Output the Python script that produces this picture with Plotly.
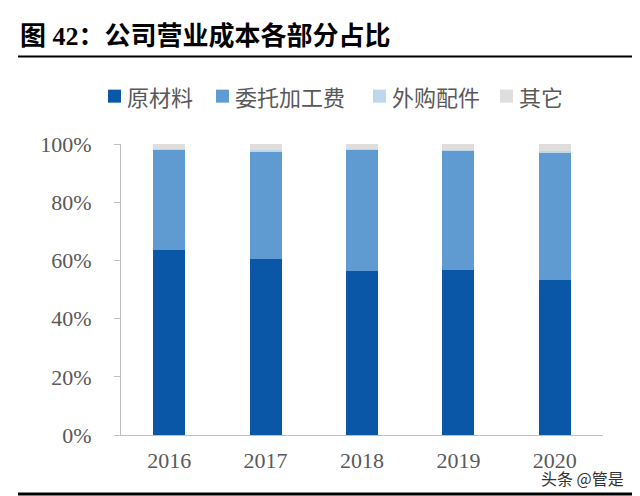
import plotly.graph_objects as go

# ---- data ----
years = ["2016", "2017", "2018", "2019", "2020"]
series_names = ["原材料", "委托加工费", "外购配件", "其它"]
raw_material = [63.6, 60.5, 56.5, 56.6, 53.4]
processing_fee = [34.4, 37.0, 41.5, 41.2, 43.6]
purchased_parts = [0.3, 0.6, 0.3, 0.3, 0.6]
others = [1.7, 1.9, 1.7, 1.9, 2.4]
y_ticks = [0, 20, 40, 60, 80, 100]
y_tick_labels = ["0%", "20%", "40%", "60%", "80%", "100%"]

series_values = [raw_material, processing_fee, purchased_parts, others]
colors = ["#0A57A8", "#5F9BD0", "#BDD7EE", "#E0DEDC"]

W, H = 640, 496
X0, X1, YT, YB = 121, 603, 144.3, 435


def px(x):
    return (x - X0) / (X1 - X0)


def py(y):
    return (YB - y) / (YB - YT)


fig = go.Figure()
for name, vals, col in zip(series_names, series_values, colors):
    fig.add_trace(go.Bar(x=years, y=vals, name=name, marker=dict(color=col, line=dict(width=0)),
                         showlegend=False))

serif = "Liberation Serif, Times New Roman, serif"
cjk = "Noto Sans CJK SC, sans-serif"

fig.update_layout(
    width=W, height=H,
    margin=dict(l=X0, r=W - X1, t=YT, b=H - YB, pad=0, autoexpand=False),
    barmode="stack",
    bargap=0.668,
    plot_bgcolor="white",
    paper_bgcolor="white",
    xaxis=dict(type="category", showline=True, linecolor="#BFBFBF", linewidth=1,
               ticks="", showgrid=False, automargin=False,
               tickfont=dict(family=serif, size=22, color="#595959"),
               ticklabelstandoff=6),
    yaxis=dict(range=[0, 100], tickmode="array", tickvals=y_ticks, ticktext=y_tick_labels,
               showline=True, automargin=False,
               linecolor="#BFBFBF", linewidth=1, ticks="outside", ticklen=6,
               tickcolor="#BFBFBF", showgrid=False, zeroline=False,
               tickfont=dict(family=serif, size=22, color="#595959"),
               ticklabelstandoff=18),
)

annotations = []
shapes = []

# title
annotations.append(dict(
    text="<b>图 42：公司营业成本各部分占比</b>", xref="paper", yref="paper",
    x=px(18), y=py(37), xanchor="left", yanchor="middle", showarrow=False,
    font=dict(family="Liberation Serif, Noto Sans CJK SC", size=26, color="#000000")))

# title rule and bottom rule
shapes.append(dict(type="line", xref="paper", yref="paper", x0=px(18), x1=px(632),
                   y0=py(57), y1=py(57), line=dict(color="#000000", width=2)))
shapes.append(dict(type="line", xref="paper", yref="paper", x0=px(18), x1=px(632),
                   y0=py(494), y1=py(494), line=dict(color="#000000", width=3)))

# custom legend
legend_marker_x = [108, 216, 373, 500]
for name, col, mx in zip(series_names, colors, legend_marker_x):
    shapes.append(dict(type="rect", xref="paper", yref="paper", x0=px(mx), x1=px(mx + 13),
                       y0=py(90), y1=py(103), fillcolor=col, line=dict(width=0)))
    annotations.append(dict(text=name, xref="paper", yref="paper", x=px(mx + 17), y=py(96.5),
                            xanchor="left", yanchor="middle", showarrow=False,
                            font=dict(family=cjk, size=22, color="#595959")))

# watermark
annotations.append(dict(text="头条 @管是", xref="paper", yref="paper", x=px(626), y=py(478),
                        xanchor="right", yanchor="middle", showarrow=False,
                        font=dict(family=cjk, size=16, color="#333333")))

fig.update_layout(annotations=annotations, shapes=shapes)
fig.write_html("out.html",
               config={"displayModeBar": False},
               post_script="document.body.style.margin='0';document.body.style.padding='0';")
